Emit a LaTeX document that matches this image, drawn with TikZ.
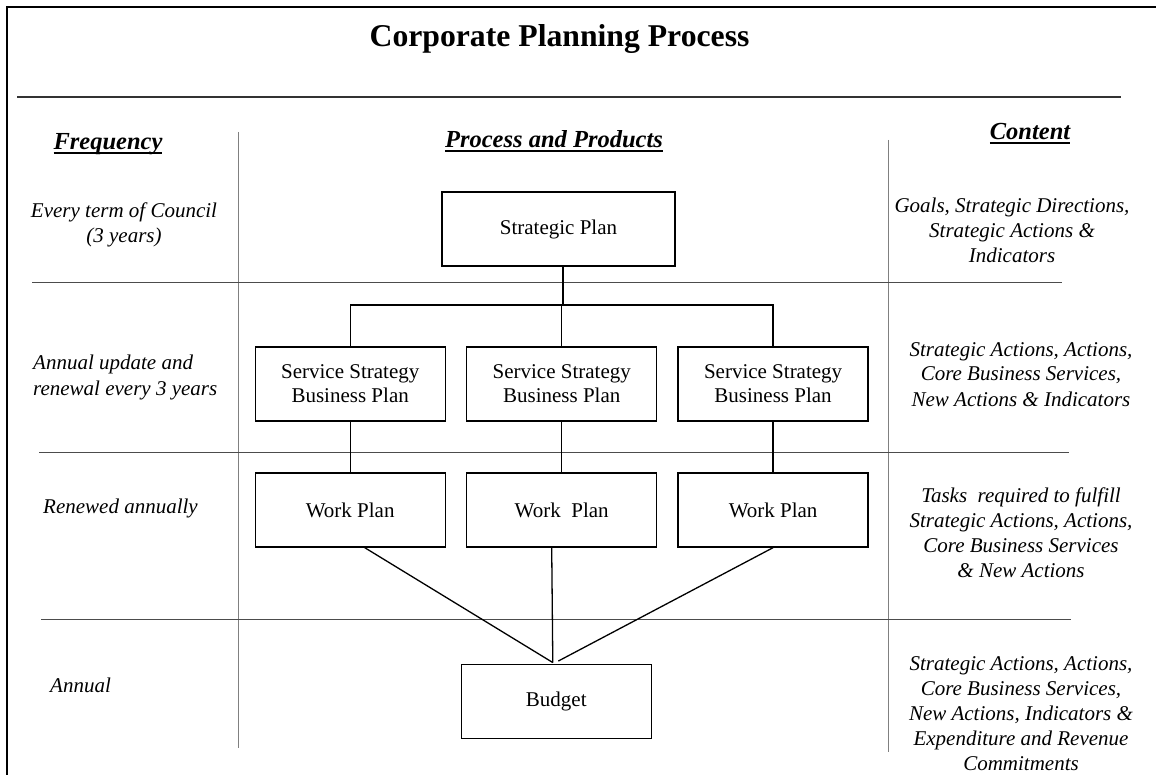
\documentclass[tikz,border=0pt]{standalone}
\usepackage{fontspec}
\setmainfont{Liberation Serif}[
  BoldFont={Liberation Serif Bold},
  ItalicFont={Liberation Serif Italic},
  BoldItalicFont={Liberation Serif Bold Italic}]
% heavy underline for the column headings
\newcommand{\hdline}[1]{\setbox0\hbox{#1}\rlap{\rule[-3.8pt]{\wd0}{1.8pt}}\box0}

\begin{document}
\begin{tikzpicture}
[x=1pt,y=-1pt,
  boxDecorate/.style={draw,line width=1.3pt,minimum width=190pt,minimum height=74pt,
    inner sep=0pt,align=center,font=\fontsize{21}{24}\selectfont},%
  textDecorate/.style={font=\fontsize{21}{25}\selectfont\itshape,inner sep=0pt},%
  headDecorate/.style={font=\fontsize{24.5}{29}\selectfont\bfseries\itshape,inner sep=0pt,anchor=base},%
  lineDecorate/.style={-,line width=1.3pt},%
  ruleDecorate/.style={line width=1pt,black!70},%
  sepDecorate/.style={line width=1pt,black!50}]
\useasboundingbox (0,0) rectangle (1156,775);

%% frame and title
\draw[line width=2pt] (7,775) -- (7,7) -- (1156,7);
\node (title) [anchor=base,inner sep=0pt,font=\fontsize{31.7}{36}\selectfont\bfseries]
  at (559.5,47) {Corporate Planning Process};
\draw[line width=1.5pt,black!80] (17,97) -- (1121,97);

%% column headings
\node (freqHead) [headDecorate] at (108,150) {\hdline{Frequency}};
\node (procHead) [headDecorate] at (554,148) {\hdline{Process and Products}};
\node (contHead) [headDecorate] at (1030,140) {\hdline{Content}};

%% column and row rules
\draw[sepDecorate] (238,132) -- (238,748);
\draw[sepDecorate] (888,140) -- (888,752);
\foreach \y/\xa/\xb in {283/32/1062, 452/39/1069, 619/41/1071}
{
  \draw[ruleDecorate] (\xa,\y) -- (\xb,\y);
}

%% plan boxes
\node (plan) [boxDecorate,minimum width=233pt] at (558.5,229) {Strategic Plan};
\foreach \i/\x in {1/350.2, 2/561.7, 3/773.1}
{
  \node (ssbp\i) [boxDecorate] at (\x,384) {Service Strategy\\Business Plan};
}
\foreach \i/\x/\txt in {1/350.2/Work Plan, 2/561.7/Work~~Plan, 3/773.1/Work Plan}
{
  \node (work\i) [boxDecorate] at (\x,510) {\txt};
}
\node (budget) [boxDecorate] at (556.3,701.7) {Budget};

%% connectors
\coordinate (bus) at (563,305);
\draw[lineDecorate] (plan.south -| bus) -- (bus);
\draw[lineDecorate] (ssbp1.north) |- (bus) -| (ssbp3.north);
\draw[lineDecorate] (ssbp2.north) -- (ssbp2.north |- bus);
\foreach \i in {1,2,3}
{
  \draw[lineDecorate] (ssbp\i.south) -- (work\i.north);
}
\draw[lineDecorate] ([xshift=14.5pt]work1.south) -- ([xshift=-3.5pt,yshift=1.5pt]budget.north);
\draw[lineDecorate] ([xshift=-10pt]work2.south) -- ([xshift=-3.5pt,yshift=1.5pt]budget.north);
\draw[lineDecorate] (work3.south) -- ([xshift=2pt,yshift=3pt]budget.north);

%% frequency column (base = last line)
\node (freq1) [textDecorate,align=center,anchor=base] at (124,243) {Every term of Council\\(3 years)};
\node (freq2) [textDecorate,align=left,anchor=base west] at (33,395) {Annual update and\\renewal every 3 years};
\node (freq3) [textDecorate,anchor=base west] at (43,513) {Renewed annually};
\node (freq4) [textDecorate,anchor=base west] at (50,692) {Annual};

%% content column (base = last line)
\node (cont1) [textDecorate,align=center,anchor=base] at (1012,263)
  {Goals, Strategic Directions,\\Strategic Actions \&\\Indicators};
\node (cont2) [textDecorate,align=center,anchor=base] at (1021,406)
  {Strategic Actions, Actions,\\Core Business Services,\\New Actions \& Indicators};
\node (cont3) [textDecorate,align=center,anchor=base] at (1021,577)
  {Tasks~~required to fulfill\\Strategic Actions, Actions,\\Core Business Services\\\& New Actions};
\node (cont4) [textDecorate,align=center,anchor=base] at (1021,770)
  {Strategic Actions, Actions,\\Core Business Services,\\New Actions, Indicators \&\\Expenditure and Revenue\\Commitments};
\end{tikzpicture}
\end{document}
